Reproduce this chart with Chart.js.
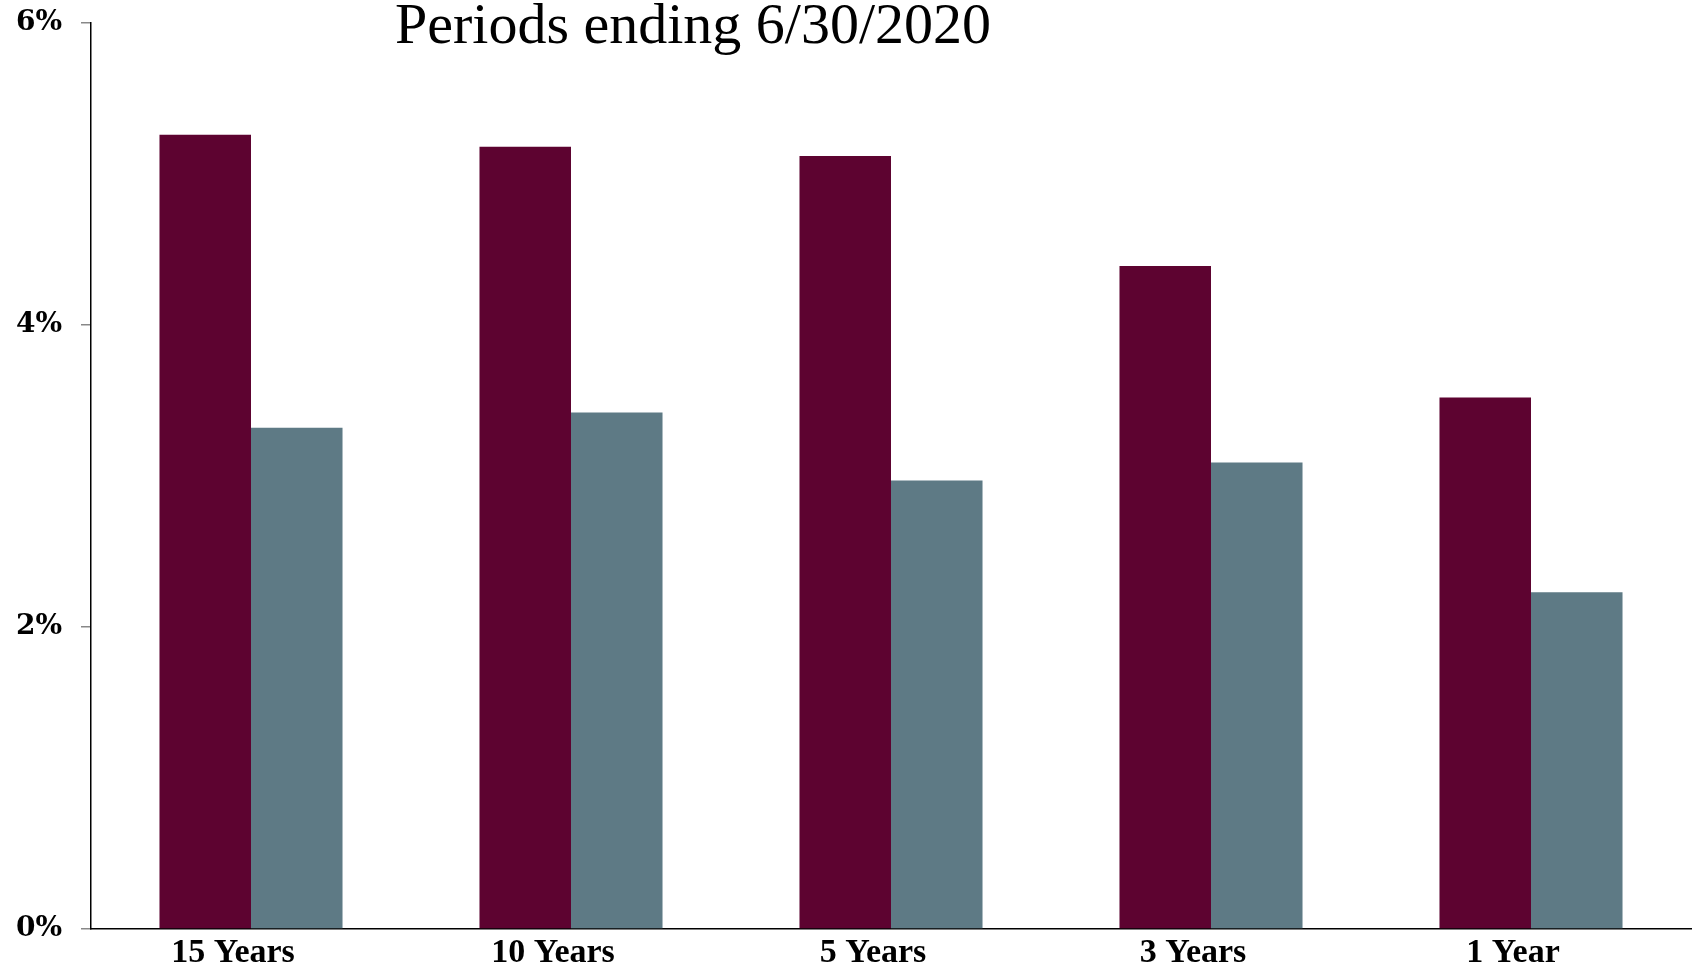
<!DOCTYPE html>
<html>
<head>
<meta charset="utf-8">
<script src="https://cdn.jsdelivr.net/npm/chart.js@4"></script>
<style>
  html, body { margin: 0; padding: 0; background: #fff; }
  #wrap { width: 1695px; height: 969px; position: relative; }
</style>
</head>
<body>
<div id="wrap"><canvas id="chart"></canvas></div>
<script>
// Datos del gráfico
const periods = ['15 Years', '10 Years', '5 Years', '3 Years', '1 Year']
const fundReturns = [5.26, 5.18, 5.12, 4.39, 3.52]
const benchReturns = [3.32, 3.42, 2.97, 3.09, 2.23]
const yTicks = [0, 2, 4, 6]
const chartTitle = 'Periods ending 6/30/2020'

// Título dibujado dentro del área, desplazado a la izquierda
const titlePlugin = {
  id: 'titleInside',
  afterDraw(chart) {
    const ctx = chart.ctx
    ctx.save()
    ctx.font = '58px "Liberation Serif", serif'
    ctx.fillStyle = '#000'
    ctx.textAlign = 'center'
    ctx.textBaseline = 'alphabetic'
    ctx.fillText(chartTitle, 693, 43)
    ctx.restore()
  }
}

const canvas = document.getElementById('chart')

new Chart(canvas, {
  type: 'bar',
  data: {
    labels: periods,
    datasets: [{
      label: 'Fund',
      data: fundReturns,
      backgroundColor: '#5D0330',
      borderWidth: 0
    }, {
      label: 'Benchmark',
      data: benchReturns,
      backgroundColor: '#5E7A85',
      borderWidth: 0
    }]
  },
  options: {
    responsive: true,
    maintainAspectRatio: false,
    animation: false,
    layout: { padding: { top: 23, right: 4, left: 0, bottom: 0 } },
    datasets: { bar: { barPercentage: 1, categoryPercentage: 0.572 } },
    plugins: {
      legend: { display: false },
      tooltip: { enabled: false },
      title: { display: false }
    },
    scales: {
      x: {
        afterFit: (scale) => { scale.height = 40 },
        grid: { display: false, drawTicks: false },
        border: { display: true, color: '#000', width: 1.5 },
        ticks: {
          color: '#000',
          padding: 7,
          labelOffset: -18,
          font: { family: '"Liberation Serif", serif', size: 34, weight: 'bold', lineHeight: 1 }
        }
      },
      y: {
        min: 0,
        max: 6,
        afterBuildTicks: (scale) => { scale.ticks = yTicks.map(v => ({ value: v })) },
        afterFit: (scale) => {
          scale.width = 91
          scale.paddingTop = 0
          scale.paddingBottom = 0
        },
        grid: { drawOnChartArea: false, drawTicks: true, tickLength: 10, color: '#888', lineWidth: 1.5 },
        border: { display: true, color: '#000', width: 1.5 },
        ticks: {
          color: '#000',
          padding: 19,
          callback: (v) => v + '%',
          font: { family: '"DejaVu Serif", serif', size: 28, weight: 'bold' }
        }
      }
    }
  },
  plugins: [titlePlugin]
})
</script>
</body>
</html>
